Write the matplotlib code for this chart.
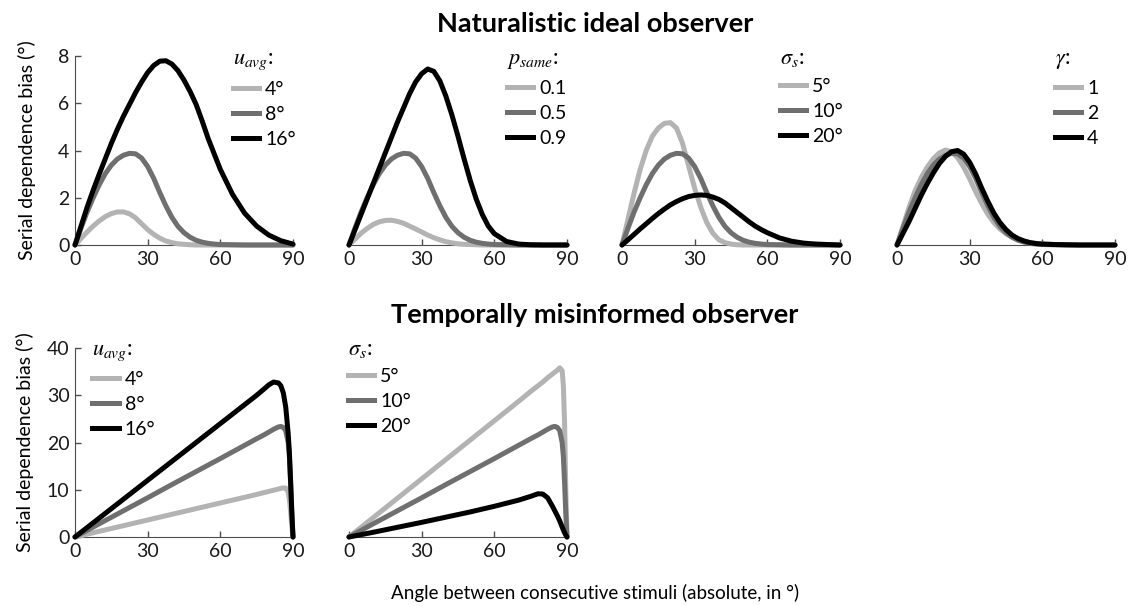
import matplotlib
matplotlib.use("Agg")
import matplotlib.pyplot as plt
from matplotlib.lines import Line2D

plt.rcParams['font.family'] = ['Lato', 'DejaVu Sans']
plt.rcParams['mathtext.fontset'] = 'stix'

# ---------------- data ----------------
X_TOP = [0, 2.5, 5, 7.5, 10, 12.5, 15, 17.5, 20, 22.5, 25, 27.5, 30, 32.5, 35, 37.5,
         40, 42.5, 45, 47.5, 50, 52.5, 55, 57.5, 60, 65, 70, 75, 80, 85, 90]

# default (gray) curve shared by the parameter panels
default_gray = [0, 0.72, 1.4, 2.0, 2.55, 3.02, 3.38, 3.64, 3.8, 3.88, 3.86, 3.68, 3.32, 2.82,
                2.22, 1.66, 1.17, 0.79, 0.52, 0.33, 0.2, 0.12, 0.07, 0.04, 0.02, 0.01, 0, 0, 0, 0, 0]

# panel 1: u_avg
u_avg_4 = [0, 0.28, 0.55, 0.8, 1.02, 1.2, 1.33, 1.4, 1.4, 1.32, 1.15, 0.9, 0.65, 0.45,
           0.29, 0.17, 0.1, 0.05, 0.03, 0.01, 0, 0, 0, 0, 0, 0, 0, 0, 0, 0, 0]
u_avg_16 = [0, 0.8, 1.6, 2.32, 3.0, 3.65, 4.3, 4.9, 5.45, 5.95, 6.45, 6.9, 7.3, 7.6,
            7.78, 7.8, 7.66, 7.38, 6.98, 6.5, 5.95, 5.25, 4.5, 3.85, 3.2, 2.15, 1.35,
            0.8, 0.42, 0.18, 0.04]

# panel 2: p_same
p_same_01 = [0, 0.25, 0.5, 0.7, 0.87, 0.98, 1.04, 1.05, 1.0, 0.92, 0.8, 0.68, 0.55, 0.42,
             0.31, 0.22, 0.14, 0.09, 0.05, 0.03, 0.02, 0.01, 0, 0, 0, 0, 0, 0, 0, 0, 0]
p_same_09 = [0, 0.65, 1.3, 1.95, 2.6, 3.25, 3.9, 4.55, 5.2, 5.8, 6.4, 6.9, 7.25, 7.45,
             7.35, 6.95, 6.3, 5.5, 4.6, 3.65, 2.75, 1.95, 1.3, 0.8, 0.48, 0.15, 0.04,
             0.01, 0, 0, 0]

# panel 3: sigma_s
sigma_5 = [0, 1.1, 2.2, 3.2, 4.0, 4.6, 4.95, 5.15, 5.18, 4.95, 4.3, 3.35, 2.4, 1.6, 0.95,
           0.5, 0.22, 0.1, 0.04, 0.01, 0, 0, 0, 0, 0, 0, 0, 0, 0, 0, 0]
sigma_20 = [0, 0.22, 0.45, 0.68, 0.9, 1.12, 1.33, 1.52, 1.7, 1.84, 1.96, 2.05, 2.1, 2.12,
            2.1, 2.03, 1.93, 1.78, 1.58, 1.38, 1.18, 0.98, 0.8, 0.65, 0.52, 0.3, 0.16,
            0.08, 0.04, 0.02, 0]

# panel 4: gamma
gamma_1 = [0, 0.8, 1.6, 2.3, 2.85, 3.3, 3.65, 3.9, 4.02, 3.95, 3.7, 3.3, 2.8, 2.25, 1.75,
           1.3, 0.95, 0.68, 0.48, 0.33, 0.22, 0.15, 0.1, 0.07, 0.05, 0.02, 0.01, 0, 0, 0, 0]
gamma_4 = [0, 0.5, 1.0, 1.55, 2.1, 2.6, 3.05, 3.45, 3.75, 3.95, 4.0, 3.85, 3.5, 3.0, 2.4,
           1.85, 1.35, 0.95, 0.65, 0.42, 0.27, 0.17, 0.1, 0.06, 0.04, 0.02, 0.01, 0, 0, 0, 0]

X_BOT = [0, 10, 20, 30, 40, 50, 60, 70, 75, 78, 80, 82, 84, 85, 86, 87, 88, 88.5, 89, 89.5, 90]

misinf_gray = [0, 2.8, 5.55, 8.3, 11.1, 13.85, 16.6, 19.4, 20.8, 21.6, 22.2, 22.8, 23.3,
               23.4, 23.2, 22.5, 20.0, 17.0, 11.5, 5.0, 0]
misinf_u4 = [0, 1.2, 2.4, 3.6, 4.8, 6.0, 7.2, 8.4, 9.0, 9.4, 9.65, 9.9, 10.15, 10.3, 10.4,
             10.35, 9.5, 8.0, 5.5, 2.5, 0]
misinf_u16 = [0, 4.0, 8.0, 12.0, 16.0, 20.0, 24.0, 28.0, 30.0, 31.3, 32.2, 32.8, 32.6,
              32.0, 30.5, 27.5, 22.0, 18.0, 12.0, 5.5, 0]
misinf_s5 = [0, 4.1, 8.2, 12.3, 16.4, 20.5, 24.6, 28.7, 30.8, 32.0, 32.8, 33.7, 34.5, 34.9,
             35.3, 35.8, 35.2, 32.0, 24.0, 10.0, 0]
misinf_s20 = [0, 1.0, 2.05, 3.1, 4.2, 5.3, 6.5, 7.8, 8.6, 9.15, 9.1, 8.3, 6.5, 5.5, 4.5,
              3.4, 2.1, 1.5, 0.9, 0.4, 0]

top_panels = [
    (r'$u_{avg}$:', ['4°', '8°', '16°'], [u_avg_4, default_gray, u_avg_16]),
    (r'$p_{same}$:', ['0.1', '0.5', '0.9'], [p_same_01, default_gray, p_same_09]),
    (r'$\sigma_s$:', ['5°', '10°', '20°'], [sigma_5, default_gray, sigma_20]),
    (r'$\gamma$:', ['1', '2', '4'], [gamma_1, default_gray, gamma_4]),
]
bot_panels = [
    (r'$u_{avg}$:', ['4°', '8°', '16°'], [misinf_u4, misinf_gray, misinf_u16]),
    (r'$\sigma_s$:', ['5°', '10°', '20°'], [misinf_s5, misinf_gray, misinf_s20]),
]

TITLE_TOP = 'Naturalistic ideal observer'
TITLE_BOT = 'Temporally misinformed observer'
XLABEL = 'Angle between consecutive stimuli (absolute, in °)'
YLABEL = 'Serial dependence bias (°)'

# ---------------- style ----------------
COLORS = ['#b3b3b3', '#6f6f6f', '#000000']
LW = 3.6
SPINE = '#4d4d4d'
FS = 14

W, H = 1129, 606
fig = plt.figure(figsize=(W / 100, H / 100), dpi=100)

cols = [75, 349, 622, 897]
AXW = 218
AXH = 189


def make_ax(xpx, top_px):
    return fig.add_axes([xpx / W, 1 - (top_px + AXH) / H, AXW / W, AXH / H])


def style(ax, show_y, ymax, yticks):
    ax.set_xlim(0, 90)
    ax.set_ylim(0, ymax)
    ax.set_xticks([0, 30, 60, 90])
    for s in ['top', 'right']:
        ax.spines[s].set_visible(False)
    ax.spines['bottom'].set_color(SPINE)
    ax.spines['left'].set_color(SPINE)
    ax.tick_params(direction='in', length=4, width=1, color=SPINE,
                   labelsize=FS, labelcolor='#1a1a1a', pad=4)
    if show_y:
        ax.set_yticks(yticks)
    else:
        ax.spines['left'].set_visible(False)
        ax.set_yticks([])
    ax.patch.set_alpha(0)


def draw(ax, x, series, title, labels, anchor):
    for ys, c in zip(series, COLORS):
        ax.plot(x, ys, color=c, lw=LW, clip_on=False, solid_joinstyle='round',
                solid_capstyle='round', zorder=3)
    handles = [Line2D([], [], color=c, lw=LW) for c in COLORS]
    leg = ax.legend(handles, labels, title=title, loc='upper left', bbox_to_anchor=anchor,
                    frameon=False, fontsize=FS, title_fontsize=FS + 2, handlelength=1.35,
                    handletextpad=0.3, labelspacing=0.42, borderpad=0, borderaxespad=0,
                    alignment='left')
    return leg


for i, (title, labels, series) in enumerate(top_panels):
    ax = make_ax(cols[i], 56)
    style(ax, i == 0, 8, [0, 2, 4, 6, 8])
    draw(ax, X_TOP, series, title, labels, (0.725, 1.04))
    if i == 0:
        ax.set_ylabel(YLABEL, fontsize=FS, labelpad=16)

for i, (title, labels, series) in enumerate(bot_panels):
    ax = make_ax(cols[i], 348)
    style(ax, i == 0, 40, [0, 10, 20, 30, 40])
    anchor = (0.08, 1.05) if i == 0 else (-0.005, 1.05)
    draw(ax, X_BOT, series, title, labels, anchor)
    if i == 0:
        ax.set_ylabel(YLABEL, fontsize=FS, labelpad=9)

cx = (cols[0] + cols[3] + AXW) / 2 / W
fig.text(cx, 1 - 32 / H, TITLE_TOP, ha='center', va='baseline', fontsize=19.5,
         fontweight='bold')
fig.text(cx, 1 - 323 / H, TITLE_BOT, ha='center', va='baseline', fontsize=19.5,
         fontweight='bold')
fig.text(cx, 1 - 599 / H, XLABEL, ha='center', va='baseline', fontsize=13.5)

fig.savefig('out.png', dpi=100)
